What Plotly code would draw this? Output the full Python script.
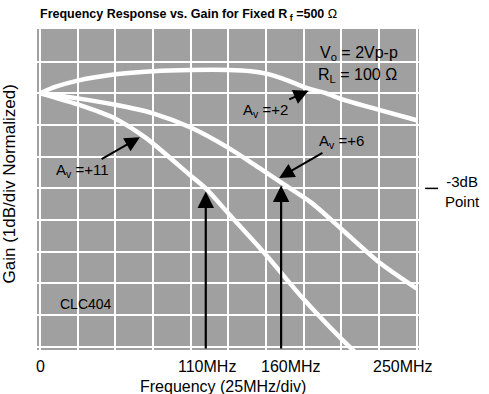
import numpy as np
import plotly.graph_objects as go

# ---- data ----
freq_av2 = [0, 10, 25, 50, 75, 100, 125, 140, 150, 160, 170, 180, 190, 200, 225, 250]
gain_av2 = [0, 0.2, 0.4, 0.6, 0.7, 0.74, 0.74, 0.7, 0.62, 0.48, 0.3, 0.12, 0.0, -0.18, -0.52, -0.85]

freq_av6 = [0, 25, 50, 75, 100, 125, 146, 165, 180, 200, 225, 250]
gain_av6 = [0, -0.16, -0.36, -0.63, -1.08, -1.72, -2.37, -2.97, -3.45, -4.28, -5.33, -6.16]

freq_av11 = [0, 25, 50, 70, 100, 110, 125, 150, 175, 200, 212]
gain_av11 = [0, -0.35, -0.8, -1.4, -2.6, -3.0, -3.79, -5.1, -6.5, -7.75, -8.3]

tick_vals = [0, 110, 160, 250]
tick_text = ["0", "110MHz", "160MHz", "250MHz"]
marker_freqs = [110, 160]          # -3dB point arrows
gain_labels = ["A<sub>v</sub> =+2", "A<sub>v</sub> =+6", "A<sub>v</sub> =+11"]
label_point_freqs = [180, 157, 68]  # where each label arrow points on its curve

FONT = "Liberation Sans, Arial, Helvetica, sans-serif"
GRAY = "#a0a0a0"

fig = go.Figure()
curves = [(freq_av2, gain_av2), (freq_av6, gain_av6), (freq_av11, gain_av11)]
for fx, gy in curves:
    fig.add_trace(go.Scatter(x=fx, y=gy, mode="lines",
                             line=dict(color="white", width=4.5, shape="spline", smoothing=0.8),
                             hoverinfo="skip", showlegend=False))

ann = []
# gain labels with arrows (text placed at arrow tail)
label_tail = [(149.5, -0.53), (200, -1.53), (28, -2.42)]
for (fx, gy), txt, pf, (tx, ty) in zip(curves, gain_labels, label_point_freqs, label_tail):
    py = float(np.interp(pf, fx, gy))
    ann.append(dict(x=pf, y=py, ax=tx, ay=ty, axref="x", ayref="y", xref="x", yref="y",
                    text=txt, showarrow=True, arrowhead=2, arrowsize=1.5, arrowwidth=2,
                    arrowcolor="black", standoff=3, font=dict(size=15, color="black", family=FONT)))

# vertical -3dB arrows
for fq, (fx, gy) in zip(marker_freqs, [curves[2], curves[1]]):
    py = float(np.interp(fq, fx, gy))
    ann.append(dict(x=fq, y=py, ax=fq, ay=-8.1, axref="x", ayref="y", xref="x", yref="y",
                    text="", showarrow=True, arrowhead=2, arrowsize=1.5, arrowwidth=2.2,
                    arrowcolor="black", standoff=3))

# condition text
ann.append(dict(x=211.5, y=1.27, xref="x", yref="y", showarrow=False,
                text="V<sub>o</sub> = 2Vp-p", font=dict(size=16, color="black", family=FONT)))
ann.append(dict(x=211, y=0.55, xref="x", yref="y", showarrow=False,
                text="R<sub>L</sub> = 100 Ω", font=dict(size=16, color="black", family=FONT)))
ann.append(dict(x=30.5, y=-6.65, xref="x", yref="y", showarrow=False,
                text="CLC404", font=dict(size=14, color="black", family=FONT)))

# x tick labels
for v, t, sh in zip(tick_vals, tick_text, [0, 1, 10, -14]):
    ann.append(dict(x=v, y=0, xref="x", yref="paper", yanchor="top", yshift=-6, xshift=sh,
                    showarrow=False, text=t, font=dict(size=16, color="black", family=FONT)))

# axis titles
ann.append(dict(x=0.5, y=0, xref="paper", yref="paper", yanchor="top", yshift=-26, xshift=-5,
                showarrow=False, text="Frequency (25MHz/div)",
                font=dict(size=16, color="black", family=FONT)))
ann.append(dict(x=0, y=0.5, xref="paper", yref="paper", xanchor="center", xshift=-28, yshift=5,
                showarrow=False, textangle=-90, text="Gain (1dB/div Normalized)",
                font=dict(size=17, color="black", family=FONT)))

# -3dB point label
ann.append(dict(x=1, y=-3, xref="paper", yref="y", xanchor="center", xshift=43, yshift=-3,
                showarrow=False, text="-3dB<br>Point",
                font=dict(size=15, color="black", family=FONT)))

fig.add_shape(type="line", xref="paper", yref="y", x0=1.016, x1=1.05, y0=-3, y1=-3,
              line=dict(color="black", width=1.5))

fig.update_layout(
    width=489, height=394,
    margin=dict(l=37, r=70, t=29, b=44),
    paper_bgcolor="white", plot_bgcolor=GRAY,
    title=dict(text="<b>Frequency Response vs. Gain for Fixed R<sub> f</sub> =500 </b>Ω",
               x=40 / 489, xref="container", xanchor="left",
               y=1 - 14 / 394, yref="container", yanchor="middle",
               font=dict(size=12.5, color="black", family=FONT)),
    xaxis=dict(range=[-2, 251.5], dtick=25, tick0=0, showgrid=True, gridcolor="white",
               gridwidth=2, zeroline=False, showticklabels=False, ticks="",
               showline=False, fixedrange=True),
    yaxis=dict(range=[-8.1, 2.03], dtick=1, tick0=0, showgrid=True, gridcolor="white",
               gridwidth=2, zeroline=False, showticklabels=False, ticks="",
               showline=False, fixedrange=True),
    annotations=ann,
)

fig.write_html("out.html", config={"displayModeBar": False},
               post_script="document.body.style.margin='0';document.body.style.padding='0';")
